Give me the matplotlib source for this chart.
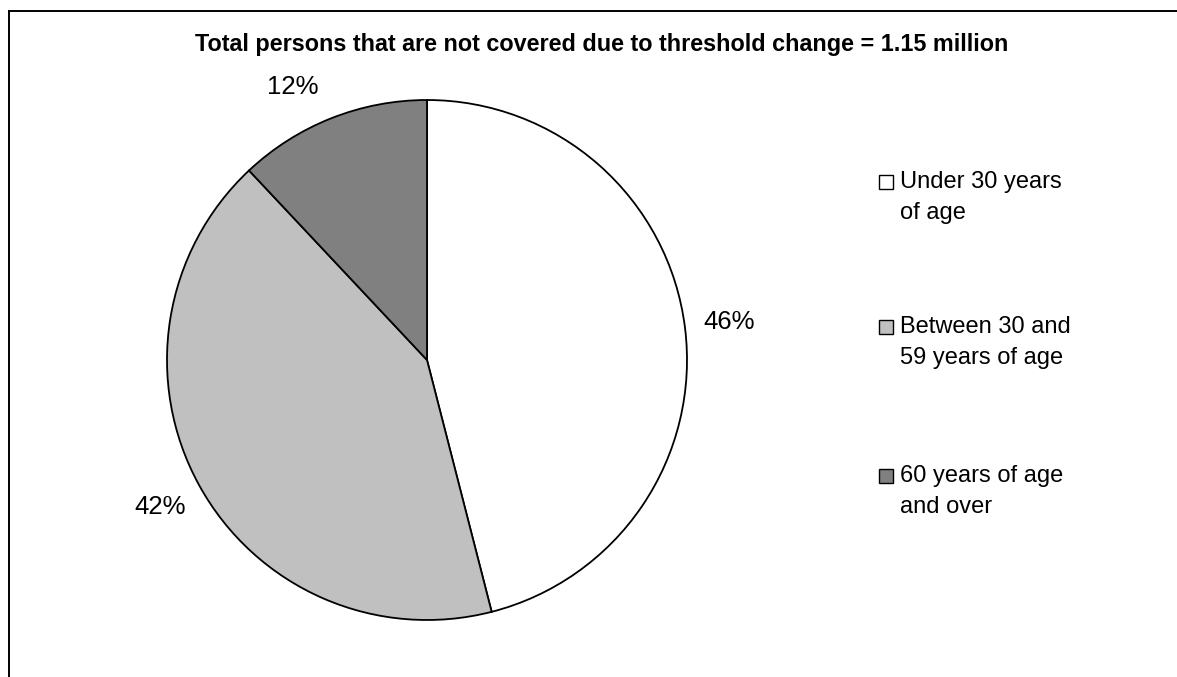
import numpy as np
import matplotlib
matplotlib.use("Agg")
import matplotlib.pyplot as plt
from matplotlib.lines import Line2D
from matplotlib.patches import Rectangle

plt.rcParams['font.family'] = ['Liberation Sans', 'DejaVu Sans']

title = "Total persons that are not covered due to threshold change = 1.15 million"
categories = [["Under 30 years", "of age"],
              ["Between 30 and", "59 years of age"],
              ["60 years of age", "and over"]]
shares = [46, 42, 12]
colors = ["#FFFFFF", "#C0C0C0", "#808080"]

W, H = 1177, 677
fig = plt.figure(figsize=(W / 100, H / 100), dpi=100)
fig.patch.set_facecolor("white")

# Outer frame (left and top edges)
fig.add_artist(Line2D([8.5 / W, 8.5 / W], [0, 1 - 10.5 / H], transform=fig.transFigure,
                      color="black", lw=1.4))
fig.add_artist(Line2D([8.5 / W, 1], [1 - 10.5 / H, 1 - 10.5 / H], transform=fig.transFigure,
                      color="black", lw=1.4))

fig.text(602 / W, 1 - 45 / H, title, ha="center", va="center",
         fontsize=16.8, fontweight="bold")

# Pie
cx, cy, r = 427, 360, 260
ax = fig.add_axes([(cx - r) / W, (H - cy - r) / H, 2 * r / W, 2 * r / H])
wedges, texts, autotexts = ax.pie(
    shares, colors=colors, startangle=90, counterclock=False,
    wedgeprops=dict(edgecolor="black", linewidth=1.3),
    autopct=lambda p: f"{p:.0f}%", pctdistance=1.17,
    textprops=dict(fontsize=18.5), radius=1)
ax.set_xlim(-1, 1)
ax.set_ylim(-1, 1)
ax.set_aspect("equal")
ax.axis("off")

# Swing the small slice's label a little further round so it clears the rim
w = wedges[2]
ang = np.deg2rad((w.theta1 + w.theta2) / 2 + 4.5)
autotexts[2].set_position((1.17 * np.cos(ang), 1.17 * np.sin(ang)))

# Legend
first_baselines = [188, 333, 482]
line_gap = 31
sq = 14
for lines, col, base in zip(categories, colors, first_baselines):
    fig.add_artist(Rectangle((878.5 / W, 1 - (base + 1) / H), sq / W, sq / H,
                             transform=fig.transFigure, facecolor=col,
                             edgecolor="black", linewidth=1.0))
    for i, ln in enumerate(lines):
        fig.text(900 / W, 1 - (base + i * line_gap) / H, ln, ha="left",
                 va="baseline", fontsize=17)

fig.savefig("out.png", dpi=100)
